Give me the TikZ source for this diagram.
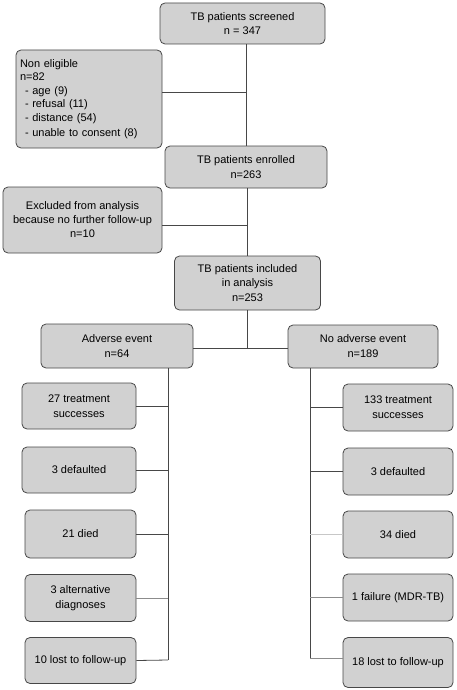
\documentclass[tikz,border=0pt]{standalone}
\usepackage{fontspec}
\setmainfont{Liberation Sans}

\tikzset{
    box/.style={draw=black!72, fill=black!18, line width=0.8pt, rounded corners=5pt,
        align=center, inner sep=2pt, font=\fontsize{11}{14}\selectfont},
    conn/.style={draw=black!72, line width=0.8pt},
    connmid/.style={draw=black!45, line width=0.8pt},
    connlight/.style={draw=black!22, line width=0.8pt}
}

\begin{document}
\begin{tikzpicture}[x=1pt,y=-1pt]
    \useasboundingbox (0,0) rectangle (457,690);

    \node[box, minimum width=165pt, minimum height=41pt] (screened) at (242.5,23.5) {TB patients screened\\n = 347};
    \node[box, minimum width=146pt, minimum height=98pt, align=left, text width=138pt,
        font=\fontsize{11}{13.6}\selectfont] (noneligible) at (89,99)
        {Non eligible\\n=82\\\hspace*{5pt}- age (9)\\\hspace*{5pt}- refusal (11)\\\hspace*{5pt}- distance (54)\\[1.5pt]\hspace*{5pt}- unable to consent (8)};
    \node[box, minimum width=162pt, minimum height=42pt] (enrolled) at (246,167) {TB patients enrolled\\[1pt]n=263};
    \node[box, minimum width=159pt, minimum height=66pt] (excluded) at (82.5,220) {Excluded from analysis\\because no further follow-up\\n=10};
    \node[box, minimum width=146pt, minimum height=54pt, font=\fontsize{11}{14.5}\selectfont] (included) at (247.5,283) {TB patients included\\in analysis\\n=253};
    \node[box, minimum width=152pt, minimum height=44pt, font=\fontsize{11}{15}\selectfont] (adverse) at (117,346) {Adverse event\\n=64};
    \node[box, minimum width=150pt, minimum height=43pt, font=\fontsize{11}{15}\selectfont] (noadverse) at (363,346.5) {No adverse event\\n=189};

    % adverse event outcomes
    \node[box, minimum width=114pt, minimum height=46pt, font=\fontsize{11}{15}\selectfont] (succA) at (79,406) {27 treatment\\successes};
    \node[box, minimum width=114pt, minimum height=46pt] (defA) at (79,470) {3 defaulted};
    \node[box, minimum width=111pt, minimum height=48pt] (diedA) at (80.5,534) {21 died};
    \node[box, minimum width=111pt, minimum height=47pt, font=\fontsize{11}{15}\selectfont] (altA) at (80.5,598) {3 alternative\\diagnoses};
    \node[box, minimum width=111pt, minimum height=46pt] (lostA) at (80.5,660.5) {10 lost to follow-up};

    % no adverse event outcomes
    \node[box, minimum width=110pt, minimum height=47pt, font=\fontsize{11}{15}\selectfont] (succB) at (398,407.5) {133 treatment\\successes};
    \node[box, minimum width=110pt, minimum height=47pt] (defB) at (398,471.5) {3 defaulted};
    \node[box, minimum width=110pt, minimum height=47pt] (diedB) at (398,534.5) {34 died};
    \node[box, minimum width=110pt, minimum height=47pt] (failB) at (398,597.5) {1 failure (MDR-TB)};
    \node[box, minimum width=110pt, minimum height=50pt] (lostB) at (398,662.5) {18 lost to follow-up};

    \coordinate (j1) at (246,92);
    \coordinate (j2) at (247,225);
    \coordinate (j3) at (247,348);
    \coordinate (tA) at (168,660);
    \coordinate (tB) at (310,658);

    \draw[conn] (screened.south -| j1) -- (enrolled.north -| j1);
    \draw[conn] (noneligible.east |- j1) -- (j1);
    \draw[conn] (enrolled.south -| j2) -- (included.north -| j2);
    \draw[conn] (excluded.east |- j2) -- (j2);
    \draw[conn] (included.south -| j3) -- (j3);
    \draw[conn] (adverse.east |- j3) -- (noadverse.west |- j3);

    \draw[conn] (adverse.south -| tA) -- (tA);
    \draw[conn] (succA.east) -- (succA.east -| tA);
    \draw[conn] (defA.east) -- (defA.east -| tA);
    \draw[conn] (diedA.east) -- (diedA.east -| tA);
    \draw[connmid] (altA.east) -- (altA.east -| tA);
    \draw[conn] (lostA.east) -- (tA);

    \draw[conn] (noadverse.south -| tB) -- (tB);
    \draw[conn] (succB.west) -- (succB.west -| tB);
    \draw[conn] (defB.west) -- (defB.west -| tB);
    \draw[connlight] (diedB.west) -- (diedB.west -| tB);
    \draw[connmid] (failB.west) -- (failB.west -| tB);
    \draw[connmid] (lostB.west |- tB) -- (tB);
\end{tikzpicture}
\end{document}
